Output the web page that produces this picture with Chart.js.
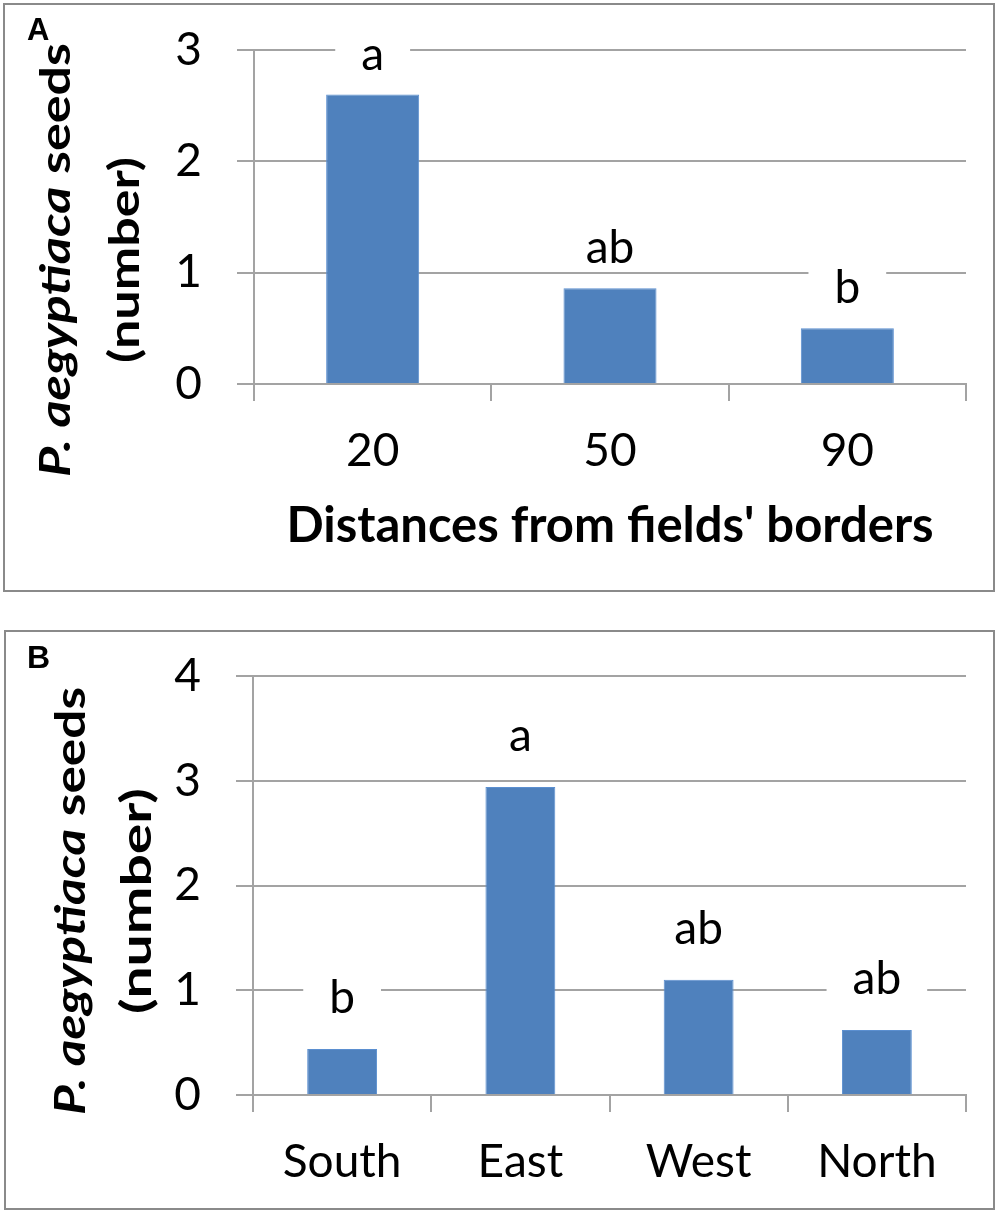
<!DOCTYPE html>
<html>
<head>
<meta charset="utf-8">
<script src="https://cdn.jsdelivr.net/npm/chart.js@4.4.1/dist/chart.umd.min.js"></script>
<style>
  html, body { margin: 0; padding: 0; background: #fff; }
  #wrap { position: relative; width: 1000px; height: 1216px; overflow: hidden; }
  .box { position: absolute; box-sizing: border-box; border: 2px solid #8a8a8a; }
  canvas { position: absolute; left: 0; }
</style>
</head>
<body>
<div id="wrap">
  <div class="box" style="left:3px;top:3px;width:992px;height:589px;"></div>
  <div class="box" style="left:4px;top:630px;width:991px;height:580px;"></div>
  <canvas id="cA" width="1000" height="600" style="top:0px;width:1000px;height:600px;"></canvas>
  <canvas id="cB" width="1000" height="601" style="top:615px;width:1000px;height:601px;"></canvas>
</div>
<script>
// ---------- data ----------
const distances = ['20', '50', '90'];
const seedsByDistance = [2.60, 0.86, 0.50];
const lettersByDistance = ['a', 'ab', 'b'];

const directions = ['South', 'East', 'West', 'North'];
const seedsByDirection = [0.44, 2.94, 1.10, 0.62];
const lettersByDirection = ['b', 'a', 'ab', 'ab'];

const yMaxA = 3;
const yMaxB = 4;
const xTitleA = "Distances from fields' borders";
const yTitleItalic = 'P. aegyptiaca';
const yTitleRest = ' seeds';
const yTitleLine2 = '(number)';

// ---------- styles ----------
const FONT = 'Lato';
const BAR = '#4f81bd';
const GRID = '#a3a3a3';

const letterPlugin = {
  id: 'letters',
  afterDatasetsDraw(chart, args, o) {
    const ctx = chart.ctx;
    const meta = chart.getDatasetMeta(0);
    ctx.save();
    ctx.font = o.size + 'px ' + FONT;
    ctx.textAlign = 'center';
    ctx.textBaseline = 'alphabetic';
    meta.data.forEach((bar, i) => {
      const t = o.letters[i];
      const y = bar.y - o.offset;
      const w = ctx.measureText(t).width;
      ctx.fillStyle = '#fff';
      ctx.fillRect(bar.x - w / 2 - 26, y - o.size * 0.78, w + 52, o.size * 0.84);
      ctx.fillStyle = '#000';
      ctx.fillText(t, bar.x, y);
    });
    ctx.restore();
  }
};

const yTitlePlugin = {
  id: 'ytitle',
  afterDraw(chart, args, o) {
    const ctx = chart.ctx;
    ctx.save();
    ctx.fillStyle = '#000';
    ctx.textBaseline = 'alphabetic';
    ctx.textAlign = 'left';
    const f1 = 'italic bold ' + o.size + 'px ' + FONT;
    const f2 = 'bold ' + o.size + 'px ' + FONT;
    ctx.font = f1; const w1 = ctx.measureText(yTitleItalic).width;
    ctx.font = f2; const w2 = ctx.measureText(yTitleRest).width;
    const sx = o.len1 / (w1 + w2);
    ctx.save();
    ctx.translate(o.x1, o.cy);
    ctx.rotate(-Math.PI / 2);
    ctx.scale(sx, 1);
    const start = -(w1 + w2) / 2;
    ctx.font = f1; ctx.fillText(yTitleItalic, start, 0);
    ctx.font = f2; ctx.fillText(yTitleRest, start + w1, 0);
    ctx.restore();
    ctx.save();
    ctx.font = f2;
    const w3 = ctx.measureText(yTitleLine2).width;
    const sx2 = o.len2 / w3;
    ctx.translate(o.x2, o.cy);
    ctx.rotate(-Math.PI / 2);
    ctx.scale(sx2, 1);
    ctx.fillText(yTitleLine2, -w3 / 2, 0);
    ctx.restore();
    ctx.font = 'bold ' + o.panelSize + 'px "Liberation Sans"';
    ctx.fillText(o.panel, o.px, o.py);
    ctx.restore();
  }
};

function makeChart(id, labels, values, letters, opts) {
  const cfg = {
    type: 'bar',
    data: {
      labels: labels,
      datasets: [{
        data: values,
        backgroundColor: BAR,
        borderColor: '#5b8fd0',
        borderWidth: 1,
        barPercentage: 0.392,
        categoryPercentage: 1.0
      }]
    },
    options: {
      responsive: false,
      animation: false,
      devicePixelRatio: 1,
      layout: { padding: { left: 0, top: opts.top, right: 34, bottom: 0 } },
      plugins: {
        legend: { display: false },
        tooltip: { enabled: false },
        letters: { letters: letters, size: 46, offset: opts.letterOffset },
        ytitle: opts.ytitle
      },
      scales: {
        x: {
          afterFit: s => { s.height = opts.xHeight; },
          grid: { drawOnChartArea: false, drawTicks: true, tickLength: 17, color: GRID, lineWidth: 2, offset: true },
          border: { color: GRID, width: 2 },
          ticks: { color: '#000', font: { family: FONT, size: 46 }, padding: 23 },
          title: opts.xTitle ? {
            display: true, text: opts.xTitle, color: '#000',
            font: { family: FONT, size: 49, weight: 'bold' },
            padding: { top: 0, bottom: opts.xTitlePad }
          } : { display: false }
        },
        y: {
          min: 0, max: opts.ymax,
          afterFit: s => { s.width = opts.yWidth; s.paddingTop = 0; s.paddingBottom = 0; },
          grid: { color: GRID, lineWidth: 2, tickLength: 17, drawTicks: true },
          border: { color: GRID, width: 2 },
          ticks: { stepSize: 1, color: '#000', font: { family: FONT, size: 46 }, padding: 35 }
        }
      }
    },
    plugins: [letterPlugin, yTitlePlugin]
  };
  return new Chart(document.getElementById(id), cfg);
}

makeChart('cA', distances, seedsByDistance, lettersByDistance, {
  top: 50, ymax: yMaxA, xHeight: 216, yWidth: 254, letterOffset: 25,
  xTitle: xTitleA, xTitlePad: 44,
  ytitle: { size: 42, x1: 70, x2: 139, cy: 260, len1: 434, len2: 206, panel: 'A', panelSize: 31, px: 27, py: 40 }
});

makeChart('cB', directions, seedsByDirection, lettersByDirection, {
  top: 61, ymax: yMaxB, xHeight: 121, yWidth: 253, letterOffset: 36,
  xTitle: null, xTitlePad: 0,
  ytitle: { size: 42, x1: 85, x2: 151, cy: 286, len1: 428, len2: 226, panel: 'B', panelSize: 32, px: 27, py: 53 }
});
</script>
</body>
</html>
